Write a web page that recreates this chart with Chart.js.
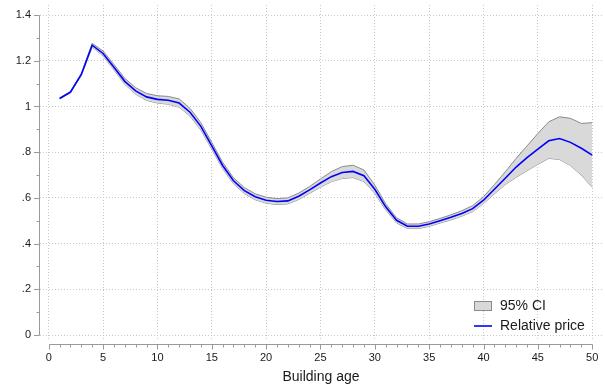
<!DOCTYPE html>
<html>
<head>
<meta charset="utf-8">
<title>Relative price by building age</title>
<script src="https://cdn.jsdelivr.net/npm/chart.js@4/dist/chart.umd.min.js"></script>
<style>
  html, body { margin: 0; padding: 0; background: #ffffff; }
  #wrap { width: 605px; height: 390px; }
  canvas { display: block; }
</style>
</head>
<body>
<div id="wrap"><canvas id="c" width="605" height="390"></canvas></div>
<script>
// Building age (years)
const ages = [1,2,3,4,5,6,7,8,9,10,11,12,13,14,15,16,17,18,19,20,21,22,23,24,25,
              26,27,28,29,30,31,32,33,34,35,36,37,38,39,40,41,42,43,44,45,46,47,48,49,50];

// Estimated relative price
const relPrice = [1.035,1.063,1.140,1.268,1.232,1.172,1.110,1.068,1.042,1.031,
                  1.027,1.015,0.975,0.913,0.828,0.742,0.675,0.632,0.605,0.590,
                  0.584,0.587,0.607,0.635,0.665,0.693,0.711,0.716,0.697,0.638,
                  0.561,0.502,0.476,0.476,0.486,0.500,0.515,0.532,0.553,0.590,
                  0.638,0.686,0.735,0.776,0.813,0.850,0.860,0.843,0.817,0.787];

// 95% confidence interval bounds
const ciUpper = [1.037,1.066,1.144,1.276,1.243,1.184,1.123,1.082,1.057,1.047,
                 1.044,1.033,0.992,0.929,0.843,0.756,0.688,0.645,0.618,0.603,
                 0.597,0.600,0.621,0.650,0.683,0.715,0.737,0.743,0.722,0.656,
                 0.574,0.513,0.486,0.486,0.496,0.510,0.526,0.544,0.566,0.605,
                 0.658,0.714,0.773,0.827,0.882,0.933,0.955,0.948,0.926,0.929];
const ciLower = [1.033,1.060,1.136,1.260,1.221,1.160,1.097,1.054,1.027,1.015,
                 1.010,0.997,0.958,0.897,0.813,0.728,0.662,0.619,0.592,0.577,
                 0.571,0.574,0.593,0.620,0.647,0.671,0.685,0.689,0.672,0.620,
                 0.548,0.491,0.466,0.466,0.476,0.490,0.504,0.520,0.540,0.575,
                 0.618,0.658,0.690,0.719,0.747,0.773,0.768,0.741,0.700,0.646];

// Axis ticks and labels
const xTicks = [0,5,10,15,20,25,30,35,40,45,50];
const xMinorTicks = [1,2,3,4,6,7,8,9,11,12,13,14,16,17,18,19,21,22,23,24,26,27,28,29,
                     31,32,33,34,36,37,38,39,41,42,43,44,46,47,48,49];
const yTicks = [0,0.2,0.4,0.6,0.8,1,1.2,1.4];
const yTickLabels = ['0','.2','.4','.6','.8','1','1.2','1.4'];
const yMinorTicks = [0.1,0.3,0.5,0.7,0.9,1.1,1.3];

const xTitle = 'Building age';
const legendLabels = ['95% CI', 'Relative price'];

const BLUE = '#0000ff';
const BAND_FILL = '#d9d9d9';
const BAND_EDGE = '#8a8a8a';
const AXIS = '#9a9a9a';
const GRID = '#c8c8c8';
const TEXT = '#1a1a1a';
const FONT = '"Liberation Sans", Arial, Helvetica, sans-serif';

const pts = arr => arr.map((v, i) => ({ x: ages[i], y: v }));

// Axis lines, major/minor ticks (offset from the plot region) and the legend box
const axesAndLegend = {
  id: 'axesAndLegend',
  afterDraw(chart) {
    const { ctx } = chart;
    const xs = chart.scales.x, ys = chart.scales.y;
    const axisX = chart.chartArea.left - 0.5;
    const axisY = chart.chartArea.bottom + 3.5;
    ctx.save();
    ctx.strokeStyle = AXIS;
    ctx.lineWidth = 1;
    ctx.beginPath();
    // y axis
    ctx.moveTo(axisX, Math.round(ys.getPixelForValue(yTicks[0])) + 0.5);
    ctx.lineTo(axisX, Math.round(ys.getPixelForValue(yTicks[yTicks.length - 1])) + 0.5);
    yTicks.forEach(v => {
      const p = Math.round(ys.getPixelForValue(v)) + 0.5;
      ctx.moveTo(axisX - 5.5, p); ctx.lineTo(axisX, p);
    });
    yMinorTicks.forEach(v => {
      const p = Math.round(ys.getPixelForValue(v)) + 0.5;
      ctx.moveTo(axisX - 3, p); ctx.lineTo(axisX, p);
    });
    // x axis
    ctx.moveTo(Math.round(xs.getPixelForValue(xTicks[0])) + 0.5, axisY);
    ctx.lineTo(Math.round(xs.getPixelForValue(xTicks[xTicks.length - 1])) + 0.5, axisY);
    xTicks.forEach(v => {
      const p = Math.round(xs.getPixelForValue(v)) + 0.5;
      ctx.moveTo(p, axisY); ctx.lineTo(p, axisY + 5);
    });
    xMinorTicks.forEach(v => {
      const p = Math.round(xs.getPixelForValue(v)) + 0.5;
      ctx.moveTo(p, axisY); ctx.lineTo(p, axisY + 3);
    });
    ctx.stroke();

    // legend
    const lx = 474, ly = 301;
    ctx.fillStyle = BAND_FILL;
    ctx.fillRect(lx + 0.5, ly + 0.5, 17, 9);
    ctx.strokeStyle = BAND_EDGE;
    ctx.strokeRect(lx + 0.5, ly + 0.5, 17, 9);
    ctx.strokeStyle = BLUE;
    ctx.lineWidth = 1.6;
    ctx.beginPath();
    ctx.moveTo(lx, ly + 25); ctx.lineTo(lx + 18, ly + 25);
    ctx.stroke();
    ctx.fillStyle = TEXT;
    ctx.font = '14px ' + FONT;
    ctx.textAlign = 'left';
    ctx.textBaseline = 'middle';
    ctx.fillText(legendLabels[0], 500, ly + 5);
    ctx.fillText(legendLabels[1], 500, ly + 25);
    ctx.restore();
  }
};

new Chart(document.getElementById('c'), {
  type: 'line',
  data: {
    datasets: [
      {
        label: legendLabels[1],
        data: pts(relPrice),
        borderColor: BLUE,
        borderWidth: 1.6,
        pointRadius: 0,
        tension: 0,
        fill: false
      },
      {
        label: legendLabels[0],
        data: pts(ciUpper),
        borderColor: BAND_EDGE,
        borderWidth: 1,
        backgroundColor: BAND_FILL,
        pointRadius: 0,
        tension: 0,
        fill: '+1'
      },
      {
        label: 'lower',
        data: pts(ciLower),
        borderColor: BAND_EDGE,
        borderWidth: 1,
        pointRadius: 0,
        tension: 0,
        fill: false
      }
    ]
  },
  options: {
    responsive: false,
    animation: false,
    devicePixelRatio: 1,
    layout: { padding: { top: 5, right: 3, left: 0, bottom: 0 } },
    plugins: {
      legend: { display: false },
      tooltip: { enabled: false }
    },
    scales: {
      x: {
        type: 'linear',
        min: -0.8,
        max: 50.9,
        afterBuildTicks: s => { s.ticks = xTicks.map(v => ({ value: v })); },
        afterFit: s => { s.height = 49; s.paddingLeft = 0; s.paddingRight = 0; },
        grid: { color: GRID, lineWidth: 1, drawTicks: true, tickLength: 7, tickColor: 'rgba(0,0,0,0)' },
        border: { display: false, dash: [1, 2] },
        ticks: {
          autoSkip: false,
          maxRotation: 0,
          padding: 3,
          color: TEXT,
          font: { family: FONT, size: 11 },
          callback: v => String(v)
        },
        title: {
          display: true,
          text: xTitle,
          color: TEXT,
          font: { family: FONT, size: 14 },
          padding: { top: 4, bottom: 4 }
        }
      },
      y: {
        type: 'linear',
        min: -0.026,
        max: 1.444,
        afterBuildTicks: s => { s.ticks = yTicks.map(v => ({ value: v })); },
        afterFit: s => { s.width = 40; s.paddingTop = 0; s.paddingBottom = 0; },
        grid: { color: GRID, lineWidth: 1, drawTicks: true, tickLength: 6, tickColor: 'rgba(0,0,0,0)' },
        border: { display: false, dash: [1, 2] },
        ticks: {
          autoSkip: false,
          padding: 3,
          color: TEXT,
          font: { family: FONT, size: 11 },
          callback: v => {
            const i = yTicks.findIndex(t => Math.abs(t - v) < 1e-9);
            return i >= 0 ? yTickLabels[i] : '';
          }
        }
      }
    }
  },
  plugins: [axesAndLegend]
});
</script>
</body>
</html>
